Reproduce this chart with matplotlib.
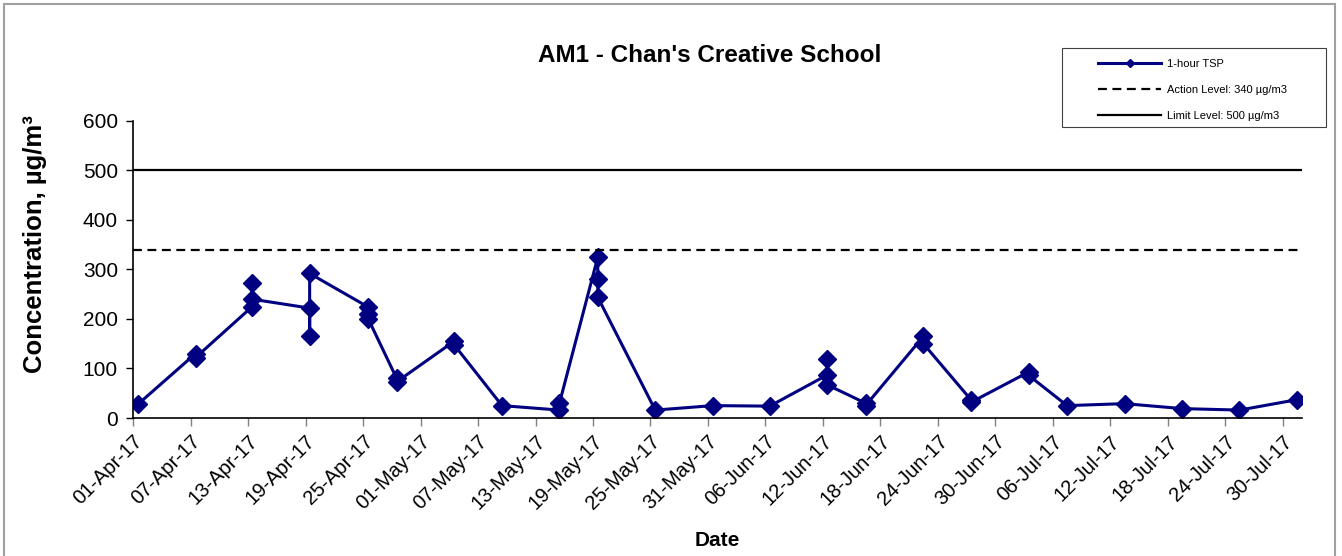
import matplotlib
matplotlib.use("Agg")
import matplotlib.pyplot as plt
import matplotlib.dates as mdates
from matplotlib.patches import Rectangle
import pandas as pd

plt.rcParams['font.family'] = ['Liberation Sans', 'DejaVu Sans']

# sampling times (one entry per measurement, repeated for same-day readings)
sample_times = [
    "2017-04-01 12:00",
    "2017-04-07 12:00", "2017-04-07 12:00",
    "2017-04-13 10:00", "2017-04-13 10:00", "2017-04-13 10:00",
    "2017-04-19 10:00", "2017-04-19 10:00", "2017-04-19 10:00",
    "2017-04-25 13:00", "2017-04-25 13:00", "2017-04-25 13:00",
    "2017-04-28 12:00", "2017-04-28 12:00",
    "2017-05-04 12:00", "2017-05-04 12:00",
    "2017-05-09 12:00",
    "2017-05-15 12:00", "2017-05-15 12:00",
    "2017-05-19 12:00", "2017-05-19 12:00", "2017-05-19 12:00",
    "2017-05-25 12:00",
    "2017-05-31 12:00",
    "2017-06-06 11:00",
    "2017-06-12 11:00", "2017-06-12 11:00", "2017-06-12 11:00",
    "2017-06-16 11:00", "2017-06-16 11:00",
    "2017-06-22 12:00", "2017-06-22 12:00",
    "2017-06-27 12:00", "2017-06-27 12:00",
    "2017-07-03 12:00", "2017-07-03 12:00",
    "2017-07-07 12:00",
    "2017-07-13 12:00",
    "2017-07-19 12:00",
    "2017-07-25 12:00",
    "2017-07-31 12:00",
]
tsp_values = [
    28,
    130, 122,
    225, 273, 240,
    222, 165, 292,
    224, 210, 200,
    80, 73,
    155, 148,
    25,
    16, 30,
    325, 280, 244,
    16,
    25,
    24,
    87, 119, 67,
    30, 25,
    165, 150,
    36, 32,
    93, 86,
    25,
    29,
    19,
    16,
    37,
]
action_level = 340
limit_level = 500
x_start = "2017-04-01"
x_end = "2017-08-01"
y_ticks = [0, 100, 200, 300, 400, 500, 600]

times = pd.to_datetime(sample_times)
tick_dates = pd.date_range("2017-04-01", "2017-07-30", freq="6D")

W, H = 1342, 556
fig = plt.figure(figsize=(W / 100, H / 100), dpi=100)
ax = fig.add_axes([0.0993, 0.2482, 0.8707, 0.5342])

ax.plot(times, tsp_values, color="#000080", lw=2.2, marker="D", markersize=9,
        label="1-hour TSP")
ax.axhline(action_level, color="black", lw=1.6, ls=(0, (4, 2.5)),
           label="Action Level: 340 µg/m3")
ax.axhline(limit_level, color="black", lw=1.6, label="Limit Level: 500 µg/m3")

ax.set_xlim(pd.Timestamp(x_start), pd.Timestamp(x_end))
ax.set_ylim(0, 600)
ax.set_yticks(y_ticks)
ax.set_xticks(tick_dates)
ax.xaxis.set_major_formatter(mdates.DateFormatter("%d-%b-%y"))
for lab in ax.get_xticklabels():
    lab.set_rotation(45)
    lab.set_ha("right")
    lab.set_rotation_mode("anchor")

ax.spines["top"].set_visible(False)
ax.spines["right"].set_visible(False)
ax.spines["left"].set_linewidth(1.2)
ax.spines["bottom"].set_linewidth(1.2)
ax.tick_params(axis="y", labelsize=15, length=5, width=1, direction="out", pad=6)
ax.tick_params(axis="x", labelsize=14.5, length=6, width=1, color="#808080",
               direction="out", pad=4)

ax.set_ylabel("Concentration, µg/m³", fontsize=18.5, fontweight="bold")
ax.yaxis.set_label_coords(-0.0735, 0.584)
ax.set_xlabel("Date", fontsize=15, fontweight="bold", labelpad=13)
fig.text(0.529, 0.90, "AM1 - Chan's Creative School", ha="center", va="center",
         fontsize=17.5, fontweight="bold")

leg = fig.legend(loc="upper left", bbox_to_anchor=(1098 / W, 1 - 59 / H),
                 fontsize=8, handlelength=5.7, labelspacing=1.45, markerscale=0.45,
                 frameon=False, borderpad=0, handletextpad=0.55,
                 borderaxespad=0)

fig.patches.append(Rectangle((1062 / W, 1 - 127 / H), 264 / W, 79 / H,
                             transform=fig.transFigure, fill=False,
                             edgecolor="#404040", lw=0.8))
fig.patches.append(Rectangle((4 / W, -0.02), 1331 / W, 1.02 - 4 / H,
                             transform=fig.transFigure, fill=False,
                             edgecolor="#a0a0a0", lw=1.5))

fig.savefig("out.png", dpi=100)
